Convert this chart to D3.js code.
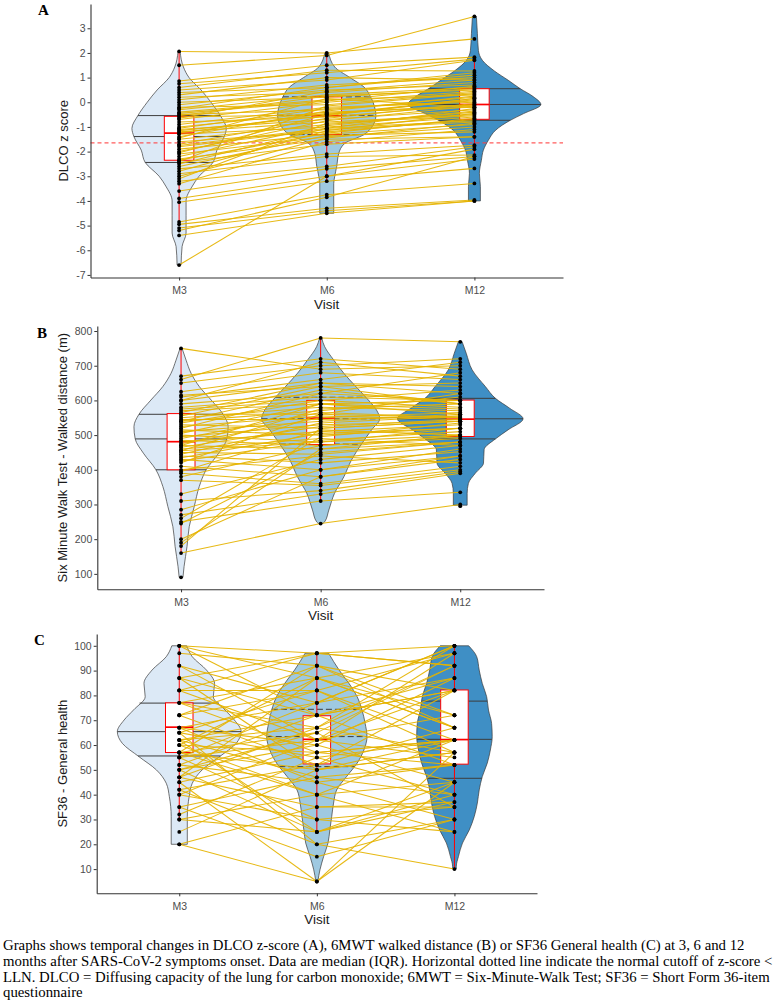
<!DOCTYPE html>
<html><head><meta charset="utf-8">
<script src="https://cdn.jsdelivr.net/npm/d3@7"></script>
<style>body{margin:0;background:#fff}svg{display:block}</style>
</head><body>
<svg id="chart" width="779" height="1007"></svg>
<script>
const visits = ["M3", "M6", "M12"];

// Panel A: DLCO z score (paired by patient index)
const dlcoM3 = [2.06,1.5,0.86,0.75,0.6,0.5,0.4,0.3,0.2,0.1,0.0,-0.1,-0.2,-0.3,-0.4,-0.5,-0.55,-0.6,-0.7,-0.8,-0.9,-1.0,-1.1,-1.15,-1.2,-1.25,-1.3,-1.4,-1.5,-1.6,-1.7,-1.8,-1.9,-2.0,-2.1,-2.2,-2.3,-2.35,-2.4,-2.5,-2.6,-2.7,-2.8,-2.9,-3.0,-3.1,-3.2,-3.3,-3.6,-3.9,-4.05,-4.85,-4.95,-5.1,-5.2,-5.4,-6.6,-0.45,-1.05,-1.75,-0.25,-2.05,-1.45,-0.65,-2.45];
const dlcoM6 = [2.0,1.9,1.5,1.2,1.3,0.9,0.6,1.0,0.4,0.7,0.2,0.5,-0.1,0.3,0.1,-0.3,0.25,-0.5,0.0,-0.6,-0.2,-0.4,-0.7,-0.55,-0.8,-0.45,-1.0,-0.35,-0.9,-1.2,-0.65,-1.1,-1.3,-0.75,-1.4,-0.95,-1.5,-1.25,-0.15,-1.05,-1.35,-2.1,-1.15,-2.2,-1.45,-0.85,-2.6,-1.6,-2.7,-3.0,-3.2,-3.75,-4.3,-4.4,-3.85,-4.5,-3.0,0.05,-0.25,-1.05,0.6,-0.5,0.15,0.45,-1.7];
const dlcoM12 = [2.57,3.48,1.83,1.75,1.27,1.7,1.1,0.9,0.8,1.0,0.55,0.7,0.4,0.6,0.3,0.2,0.5,0.1,0.45,-0.1,0.0,-0.2,-0.3,0.15,-0.5,-0.1,-0.6,0.25,-0.4,-0.7,-0.05,-0.8,-0.9,-0.15,-1.0,-0.35,-1.4,-0.65,0.35,-0.25,-1.2,-1.74,-0.45,-2.14,-0.85,-0.55,-1.8,-1.1,-2.2,-2.3,-2.68,-3.29,-3.96,-4.0,-2.2,-4.0,-1.9,0.65,0.05,-0.75,1.2,0.15,-0.2,0.9,-1.4];
const dlcoTicks = [-7,-6,-5,-4,-3,-2,-1,0,1,2,3];
const dlcoLLN = -1.645;
const dlcoViolinM3 = [[2.06,0.015],[1.43,0.065],[1.0,0.15],[0.5,0.33],[0,0.48],[-0.54,0.62],[-1.06,0.71],[-1.39,0.68],[-1.94,0.57],[-2.44,0.51],[-3.0,0.30],[-3.4,0.20],[-4.0,0.105],[-4.6,0.105],[-5.3,0.105],[-5.85,0.045],[-6.6,0.03]];
const dlcoViolinM6 = [[2.0,0.03],[1.43,0.12],[1.0,0.35],[0.62,0.56],[0.22,0.66],[-0.19,0.72],[-0.53,0.74],[-1.0,0.68],[-1.31,0.56],[-1.67,0.27],[-2.08,0.18],[-2.6,0.15],[-3.0,0.12],[-3.3,0.105],[-3.7,0.105],[-4.2,0.105],[-4.5,0.105]];
const dlcoViolinM12 = [[3.48,0.03],[2.78,0.045],[2.1,0.06],[1.7,0.12],[1.27,0.30],[0.89,0.51],[0.55,0.69],[0.22,0.89],[-0.09,1.0],[-0.46,0.74],[-0.73,0.54],[-1.13,0.32],[-1.54,0.21],[-1.94,0.135],[-2.35,0.105],[-2.88,0.075],[-3.42,0.09],[-4.0,0.09]];
const dlcoQuantiles = [[-2.44,-1.39,-0.54],[-1.31,-0.53,0.22],[-0.73,-0.09,0.55]];
// q1, median, q3, whisker low, whisker high
const dlcoBoxes = [[-2.35,-1.25,-0.57,-4.95,2.06],[-1.31,-0.55,0.22,-3.2,2.0],[-0.69,-0.09,0.55,-2.3,1.83]];

// Panel B: six minute walk distance (m)
const walkM3 = [750,670,660,650,625,615,610,600,590,580,575,570,560,555,550,545,540,535,530,525,520,515,510,505,500,495,490,485,480,475,470,465,460,455,450,445,440,435,430,425,420,410,400,395,390,380,370,330,310,285,270,260,250,245,200,190,180,160,90,600,565,470,540,455];
const walkM6 = [690,720,780,700,680,640,660,650,620,610,600,590,560,640,580,545,570,600,520,555,620,500,540,590,480,530,565,470,510,550,460,525,490,575,445,535,420,505,400,485,560,380,440,515,360,470,355,430,340,400,330,495,310,450,380,460,520,245,null,710,650,590,630,480];
const walkM12 = [700,690,769,720,660,650,710,640,680,600,630,560,620,590,570,555,610,580,540,545,600,520,560,575,500,540,550,490,530,565,480,545,470,590,480,555,452,520,440,510,550,430,420,500,410,495,400,470,395,460,390,535,335,480,440,500,540,300,295,670,620,600,590,520];
const walkTicks = [100,200,300,400,500,600,700,800];
const walkViolinM3 = [[750,0.016],[716,0.08],[678,0.16],[640,0.29],[601,0.48],[560,0.67],[524,0.75],[489,0.73],[448,0.60],[400,0.40],[352,0.29],[294,0.21],[236,0.13],[179,0.095],[121,0.048],[90,0.03]];
const walkViolinM6 = [[780,0.016],[755,0.064],[716,0.21],[678,0.37],[640,0.56],[601,0.76],[572,0.89],[547,0.94],[515,0.81],[474,0.65],[428,0.49],[380,0.37],[332,0.22],[284,0.13],[250,0.064],[245,0.03]];
const walkViolinM12 = [[769,0.03],[736,0.095],[688,0.19],[640,0.40],[606,0.56],[577,0.79],[547,1.0],[515,0.76],[489,0.56],[458,0.38],[419,0.37],[390,0.24],[361,0.13],[332,0.11],[298,0.11]];
const walkQuantiles = [[400,489,560],[474,547,609],[489,547,606]];
const walkBoxes = [[400,481,562,160,750],[473,549,600,310,780],[496,546,601,390,723]];

// Panel C: SF36 general health
const sfM3 = [100,100,97,92,87,87,82,82,77,77,72,72,67,67,65,65,62,62,62,60,60,57,57,57,55,55,52,52,50,50,47,47,45,45,42,42,40,40,35,35,32,30,30,25,20,20,82,92,72,67,62,57,55,50,65,77,100,60,47,87];
const sfM6 = [97,87,92,77,97,72,82,62,87,67,52,92,60,77,82,55,72,47,67,57,87,40,65,50,62,30,72,45,60,25,67,35,5,57,20,52,62,30,47,15,55,25,40,50,5,35,97,62,82,45,25,92,77,65,20,57,72,40,87,50];
const sfM12 = [100,97,82,100,92,87,62,97,72,92,82,67,45,87,57,62,82,40,100,52,67,62,35,57,72,25,52,30,87,40,57,37,45,62,10,67,55,35,52,30,40,45,25,62,57,35,92,82,97,52,37,72,100,92,30,62,82,45,67,57];
const sfTicks = [10,20,30,40,50,60,70,80,90,100];
const sfViolinM3 = [[100,0.12],[95.6,0.21],[90.2,0.44],[84.8,0.57],[79.5,0.55],[74.1,0.74],[70.1,0.89],[65.4,1.0],[60.7,0.92],[55.3,0.65],[50,0.37],[44.6,0.21],[39.2,0.16],[31.2,0.13],[25.8,0.13],[20,0.13]];
const sfViolinM6 = [[97,0.19],[90.2,0.36],[84.8,0.52],[79.5,0.65],[74.1,0.73],[68.7,0.78],[63.4,0.81],[58,0.76],[52.7,0.65],[47.3,0.48],[41.9,0.32],[36.6,0.27],[31.2,0.24],[25.8,0.21],[20.5,0.18],[15.1,0.11],[9.7,0.05],[5,0.016]];
const sfViolinM12 = [[100,0.23],[95.6,0.36],[90.2,0.40],[84.8,0.45],[79.5,0.52],[74.1,0.55],[68.7,0.60],[63.4,0.61],[58,0.58],[52.7,0.53],[47.3,0.45],[41.9,0.40],[36.6,0.37],[31.2,0.32],[25.8,0.24],[20.5,0.13],[15.1,0.065],[11.1,0.03],[10,0.03]];
const sfQuantiles = [[55.6,65.4,76.9],[51.3,63.4,74.4],[46.6,62.3,77.7]];
const sfBoxes = [[57,67.2,77,30,100],[52.4,62.3,71.8,25,97],[52.3,62.2,82.2,10,100]];

const captionLines = [
  "Graphs shows temporal changes in DLCO z-score (A), 6MWT walked distance (B) or SF36 General health (C) at 3, 6 and 12",
  "months after SARS-CoV-2 symptoms onset. Data are median (IQR). Horizontal dotted line indicate the normal cutoff of z-score <",
  "LLN. DLCO = Diffusing capacity of the lung for carbon monoxide; 6MWT = Six-Minute-Walk Test; SF36 = Short Form 36-item",
  "questionnaire"
];

// ---------- drawing ----------
const svg = d3.select("#chart");
const violinFills = ["#dce9f6", "#9fc9e1", "#3f8fc5"];
const SANS = "'Liberation Sans', Arial, sans-serif";
const SERIF = "'Liberation Serif', 'Times New Roman', serif";

function interp(prof, v) {
  for (let k = 0; k < prof.length - 1; k++) {
    const a = prof[k], b = prof[k + 1];
    if (v >= a[0] && v <= b[0]) {
      const t = (v - a[0]) / (b[0] - a[0] || 1);
      return a[1] + t * (b[1] - a[1]);
    }
  }
  return 0;
}

function drawPanel(c) {
  const g = svg.append("g");
  const x = d3.scalePoint().domain(visits).range([c.left, c.right]).padding(0.6);
  const y = d3.scaleLinear().domain(c.domain).range([c.bottom, c.top]);
  const step = x.step();
  const w = d3.scaleLinear().domain([0, 1]).range([0, 0.45 * step]);
  const cols = [c.m3, c.m6, c.m12];

  // violins + quantile lines
  visits.forEach((v, i) => {
    const cx = x(v);
    const prof = c.violins[i].slice().sort((a, b) => a[0] - b[0]);
    const area = d3.area().curve(d3.curveMonotoneY)
      .y(d => y(d[0])).x0(d => cx - w(d[1])).x1(d => cx + w(d[1]));
    g.append("path").attr("d", area(prof))
      .attr("fill", violinFills[i]).attr("stroke", "#3a3a3a").attr("stroke-width", 0.7);
    c.quantiles[i].forEach(q => {
      const hw = w(interp(prof, q));
      g.append("line").attr("x1", cx - hw).attr("x2", cx + hw)
        .attr("y1", y(q)).attr("y2", y(q))
        .attr("stroke", "#3d3d3d").attr("stroke-width", 1)
        .attr("stroke-dasharray", i === 1 ? "6,3" : null);
    });
  });

  // boxplots
  visits.forEach((v, i) => {
    const cx = x(v), bw = 0.2 * step;
    const [q1, med, q3, lo, hi] = c.boxes[i];
    g.append("line").attr("x1", cx).attr("x2", cx).attr("y1", y(lo)).attr("y2", y(q1))
      .attr("stroke", "#ff0000").attr("stroke-width", 1);
    g.append("line").attr("x1", cx).attr("x2", cx).attr("y1", y(q3)).attr("y2", y(hi))
      .attr("stroke", "#ff0000").attr("stroke-width", 1);
    g.append("rect").attr("x", cx - bw / 2).attr("width", bw)
      .attr("y", y(q3)).attr("height", y(q1) - y(q3))
      .attr("fill", "#ffffff").attr("stroke", "#ff0000").attr("stroke-width", 1);
    g.append("line").attr("x1", cx - bw / 2).attr("x2", cx + bw / 2)
      .attr("y1", y(med)).attr("y2", y(med))
      .attr("stroke", "#ff0000").attr("stroke-width", 1.7);
  });

  // reference line
  if (c.refLine !== undefined) {
    g.append("line").attr("x1", c.left).attr("x2", c.right)
      .attr("y1", y(c.refLine)).attr("y2", y(c.refLine))
      .attr("stroke", "#ff4040").attr("stroke-width", 1.2)
      .attr("stroke-dasharray", "4,3").attr("opacity", 0.85);
  }

  // paired lines
  const segs = [];
  for (let s = 0; s < 2; s++) {
    const A = cols[s], B = cols[s + 1];
    A.forEach((a, k) => {
      if (a != null && B[k] != null) segs.push([visits[s], a, visits[s + 1], B[k]]);
    });
  }
  g.append("g").selectAll("line").data(segs).join("line")
    .attr("x1", d => x(d[0])).attr("y1", d => y(d[1]))
    .attr("x2", d => x(d[2])).attr("y2", d => y(d[3]))
    .attr("stroke", "#E6B400").attr("stroke-width", 1.05).attr("opacity", 0.92);

  // points
  const pts = [];
  cols.forEach((col, i) => col.forEach(v => { if (v != null) pts.push([visits[i], v]); }));
  g.append("g").selectAll("circle").data(pts).join("circle")
    .attr("cx", d => x(d[0])).attr("cy", d => y(d[1])).attr("r", 1.9)
    .attr("fill", "#000");

  // axes
  const ya = g.append("g").attr("transform", `translate(${c.left},0)`)
    .call(d3.axisLeft(y).tickValues(c.ticks).tickFormat(d => String(d))
      .tickSize(3).tickSizeOuter(0).tickPadding(2));
  const xa = g.append("g").attr("transform", `translate(0,${c.bottom})`)
    .call(d3.axisBottom(x).tickSize(3).tickSizeOuter(0).tickPadding(6));
  [ya, xa].forEach(a => {
    a.select(".domain").attr("stroke", "#333").attr("stroke-width", 1.1);
    a.selectAll(".tick line").attr("stroke", "#333");
    a.selectAll(".tick text").attr("fill", "#4d4d4d")
      .style("font-family", SANS).style("font-size", "10.5px");
  });

  // titles
  g.append("text").attr("transform", `translate(${c.titleX},${(c.top + c.bottom) / 2}) rotate(-90)`)
    .attr("text-anchor", "middle").attr("fill", "#1a1a1a")
    .style("font-family", SANS).style("font-size", "13px").text(c.title);
  g.append("text").attr("x", (c.left + c.right) / 2).attr("y", c.bottom + 31)
    .attr("text-anchor", "middle").attr("fill", "#1a1a1a")
    .style("font-family", SANS).style("font-size", "13.5px").text("Visit");
  g.append("text").attr("x", c.letterX).attr("y", c.letterY)
    .attr("fill", "#000").style("font-family", SERIF).style("font-weight", "bold")
    .style("font-size", "15px").text(c.letter);
}

drawPanel({
  left: 90.5, right: 563, top: 4, bottom: 277.5, domain: [-7.104, 3.984],
  m3: dlcoM3, m6: dlcoM6, m12: dlcoM12, ticks: dlcoTicks,
  violins: [dlcoViolinM3, dlcoViolinM6, dlcoViolinM12],
  quantiles: dlcoQuantiles, boxes: dlcoBoxes, refLine: dlcoLLN,
  title: "DLCO z score", titleX: 68, letter: "A", letterX: 38, letterY: 15
});
drawPanel({
  left: 97.3, right: 544, top: 326, bottom: 589.3, domain: [55.5, 814.5],
  m3: walkM3, m6: walkM6, m12: walkM12, ticks: walkTicks,
  violins: [walkViolinM3, walkViolinM6, walkViolinM12],
  quantiles: walkQuantiles, boxes: walkBoxes,
  title: "Six Minute Walk Test - Walked distance (m)", titleX: 67, letter: "B", letterX: 37, letterY: 337.5
});
drawPanel({
  left: 96.7, right: 537, top: 634, bottom: 893.3, domain: [0.25, 104.75],
  m3: sfM3, m6: sfM6, m12: sfM12, ticks: sfTicks,
  violins: [sfViolinM3, sfViolinM6, sfViolinM12],
  quantiles: sfQuantiles, boxes: sfBoxes,
  title: "SF36 - General health", titleX: 67, letter: "C", letterX: 34, letterY: 644.5
});

// caption
const capY = [949.5, 965.5, 981.5, 997];
const cap = svg.append("g");
cap.selectAll("text").data(captionLines).join("text")
  .attr("x", 3).attr("y", (d, i) => capY[i])
  .attr("fill", "#000").style("font-family", SERIF).style("font-size", "14px")
  .text(d => d);
// fit caption width to the reference line length
const l2 = cap.selectAll("text").nodes()[1];
const wl = l2.getComputedTextLength();
const fs = 14 * 770 / wl;
cap.selectAll("text").style("font-size", fs.toFixed(2) + "px");
</script>
</body></html>
